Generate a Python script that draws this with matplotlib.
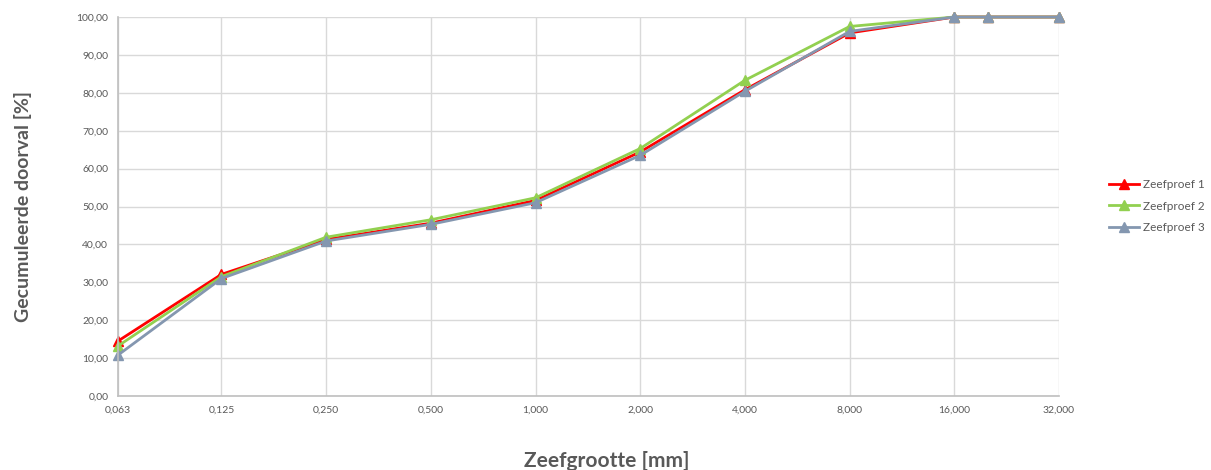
import matplotlib
matplotlib.use("Agg")
import matplotlib.pyplot as plt
from matplotlib.ticker import FixedLocator, FuncFormatter, NullLocator

plt.rcParams['font.family'] = ['Lato', 'DejaVu Sans']

# sieve sizes [mm]
sieves = [0.063, 0.125, 0.25, 0.5, 1, 2, 4, 8, 16, 20, 32]
tick_sizes = [0.063, 0.125, 0.25, 0.5, 1, 2, 4, 8, 16, 32]

# cumulative passing [%]
zeef1 = [14.5, 32.1, 41.3, 45.6, 51.6, 64.4, 80.8, 95.8, 100, 100, 100]
zeef2 = [13.2, 31.5, 41.9, 46.5, 52.3, 65.3, 83.3, 97.5, 100, 100, 100]
zeef3 = [10.8, 31.0, 40.9, 45.3, 51.0, 63.5, 80.4, 96.2, 100, 100, 100]

labels = ["Zeefproef 1", "Zeefproef 2", "Zeefproef 3"]
colors = ["#FF0000", "#92D050", "#8497B0"]

fig = plt.figure(figsize=(12.11, 4.70), dpi=100)
ax = fig.add_axes([118/1211, 1-396/470, (1059-118)/1211, (396-17)/470])

for ys, lab, c in zip([zeef1, zeef2, zeef3], labels, colors):
    ax.plot(sieves, ys, color=c, lw=2, marker='^', markersize=6.5, label=lab, clip_on=False)

ax.set_xscale('log', base=2)
ax.set_xlim(0.063, 32)
ax.set_ylim(0, 100)
ax.xaxis.set_major_locator(FixedLocator(tick_sizes))
ax.xaxis.set_minor_locator(NullLocator())
ax.xaxis.set_major_formatter(FuncFormatter(lambda v, p: f"{v:.3f}".replace('.', ',')))
ax.set_yticks(range(0, 101, 10))
ax.yaxis.set_major_formatter(FuncFormatter(lambda v, p: f"{v:.2f}".replace('.', ',')))

ax.grid(True, color='#D9D9D9', lw=1)
ax.set_axisbelow(True)
for s in ['top', 'right']:
    ax.spines[s].set_visible(False)
for s in ['left', 'bottom']:
    ax.spines[s].set_color('#BFBFBF')
    ax.spines[s].set_linewidth(1.2)
ax.tick_params(length=0, labelsize=7.5, colors='#595959', pad=7)

ax.set_xlabel("Zeefgrootte [mm]", fontsize=15, fontweight='bold', color='#595959', labelpad=26)
ax.xaxis.label.set_x((607-118)/941)  # title sits a bit right of the plot centre
ax.set_ylabel("Gecumuleerde doorval [%]", fontsize=14, fontweight='bold', color='#595959', labelpad=32)

ax.legend(loc='center left', bbox_to_anchor=(1098/1211, 1-206/470), bbox_transform=fig.transFigure,
          frameon=False, fontsize=8.5, labelcolor='#595959', handlelength=2.6, handletextpad=0.3,
          labelspacing=0.9)

fig.savefig("out.png", dpi=100)
